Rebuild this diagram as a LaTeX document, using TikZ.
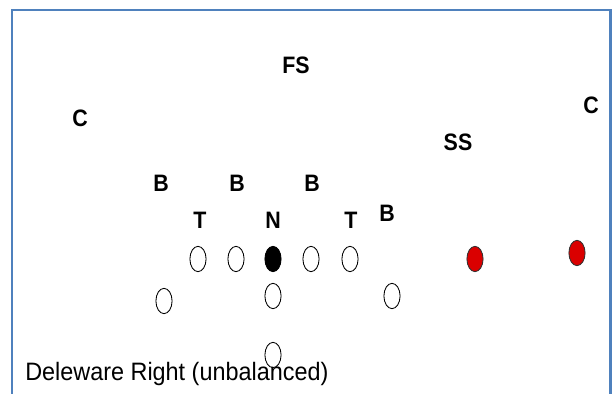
\documentclass[tikz,border=0pt]{standalone}
\usepackage{fontspec}
\setmainfont{Liberation Sans}
\usepackage{tikz}
\usetikzlibrary{shapes.geometric}
\definecolor{framebl}{RGB}{79,129,189}
\definecolor{wrred}{RGB}{218,0,0}
\tikzset{
  spot/.style={inner sep=0pt, font=\fontsize{16.9}{18}\selectfont\bfseries, xscale=0.9},
  plyr/.style={draw, ellipse, line width=0.6pt, fill=white, minimum width=11.5pt, minimum height=18pt, inner sep=0pt},
  ctr/.style={plyr, fill=black},
  wr/.style={plyr, fill=wrred, draw=black!80},
  caption/.style={inner sep=0pt, font=\fontsize{17.9}{20}\selectfont, xscale=0.93}
}

\begin{document}
\begin{tikzpicture}[x=0.025cm,y=-0.025cm]
  \useasboundingbox (0,0) rectangle (614,394);
  % frame, open at the bottom
  \draw[framebl, line width=1.5pt] (12.3,394) -- (12.3,10.3) -- (610.5,10.3) -- (610.5,394);

  % defence
  \node[spot] (fs) at (296,65) {FS};
  \node[spot] (cbL) at (80,118) {C};
  \node[spot] (cbR) at (591,105) {C};
  \node[spot] (ss) at (458,142) {SS};
  \node[spot] (lbA) at (161,183) {B};
  \node[spot] (lbB) at (237,183) {B};
  \node[spot] (lbC) at (312,183) {B};
  \node[spot] (dtL) at (200,220) {T};
  \node[spot] (ng) at (273,220) {N};
  \node[spot] (dtR) at (351,220) {T};
  \node[spot] (lbD) at (387,213) {B};

  % offence
  \foreach \x/\n in {198/lt,236/lg,311/rg,350/rt}
    \node[plyr] (\n) at (\x,259) {};
  \node[ctr] (cen) at (273,259) {};
  \node[wr] (wrA) at (475,259) {};
  \node[wr] (wrB) at (577,253) {};
  \node[plyr] (wing) at (164,301) {};
  \node[plyr] (qb) at (273,296) {};
  \node[plyr] (te) at (392,296) {};
  \node[plyr] (tb) at (273,355) {};

  \node[caption, anchor=base west] (title) at (25,380) {Deleware Right (unbalanced)};
\end{tikzpicture}
\end{document}
